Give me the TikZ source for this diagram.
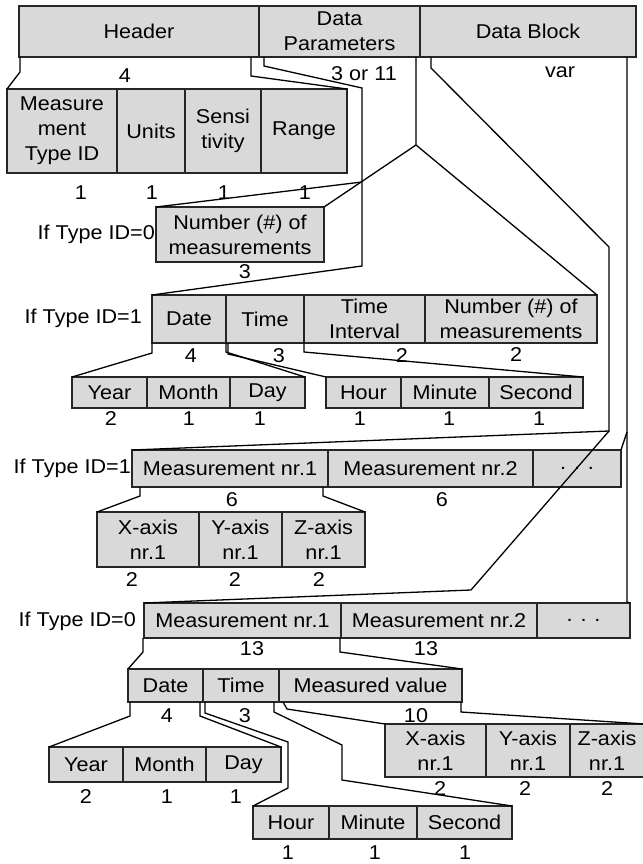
\documentclass[tikz,border=0pt]{standalone}
\usepackage{fontspec}
\setmainfont{Liberation Sans}[FakeStretch=1.08]
\newcommand\fs{\fontsize{20}{25}\selectfont}
\tikzset{
  cell/.style={draw=black!85, line width=1.8pt, fill=black!15, inner sep=0pt, outer sep=0pt, align=center, font=\fs},
  conn/.style={line width=1.3pt, line join=miter},
  lbl/.style={inner sep=0pt, font=\fs},
}
\begin{document}
\begin{tikzpicture}[x=1pt,y=-1pt]
\useasboundingbox (0,0) rectangle (642,864);
% top row
\node[cell, minimum width=240, minimum height=51] (hdr) at (139,31.5) {Header};
\node[cell, minimum width=161, minimum height=51] (dp) at (339.5,31.5) {Data\\Parameters};
\node[cell, minimum width=216, minimum height=51] (db) at (528,31.5) {Data Block};
\node[lbl] (l4) at (125,76) {4};
\node[lbl] (l311) at (364,74) {3 or 11};
\node[lbl] (lvar) at (560,72) {var};
% header sub row
\node[cell, minimum width=110, minimum height=84] (mtid) at (62,131) {Measure\\ment\\Type ID};
\node[cell, minimum width=68, minimum height=84] (units) at (151,131) {Units};
\node[cell, minimum width=76, minimum height=84] (sens) at (223,131) {Sensi\\tivity};
\node[cell, minimum width=86, minimum height=84] (range) at (304,131) {Range};
\node[lbl] (h1) at (81,193) {1};
\node[lbl] (h2) at (152,193) {1};
\node[lbl] (h3) at (224,193) {1};
\node[lbl] (h4) at (305,193) {1};
% type 0 number
\node[cell, minimum width=168, minimum height=55] (num0) at (240,234.5) {Number (\#) of\\measurements};
\node[lbl, anchor=east] (if0a) at (155,234) {If Type ID=0};
\node[lbl] (n0l) at (245,272) {3};
% type 1 params
\node[cell, minimum width=74, minimum height=48] (date1) at (189,319) {Date};
\node[cell, minimum width=78, minimum height=48] (time1) at (265,319) {Time};
\node[cell, minimum width=121, minimum height=48] (ti) at (364.5,319) {Time\\Interval};
\node[cell, minimum width=172, minimum height=48] (nm1) at (511,319) {Number (\#) of\\measurements};
\node[lbl, anchor=east] (if1a) at (142,318) {If Type ID=1};
\node[lbl] (p1) at (191,356) {4};
\node[lbl] (p2) at (279,356) {3};
\node[lbl] (p3) at (402,356) {2};
\node[lbl] (p4) at (516,355) {2};
% ymd / hms 1
\node[cell, minimum width=75, minimum height=31] (year1) at (109.5,392.5) {Year};
\node[cell, minimum width=83, minimum height=31] (month1) at (188.5,392.5) {Month};
\node[cell, minimum width=75, minimum height=31] (day1) at (267.5,392.5) {Day};
\node[cell, minimum width=75, minimum height=31] (hour1) at (363.5,392.5) {Hour};
\node[cell, minimum width=88, minimum height=31] (min1) at (445,392.5) {Minute};
\node[cell, minimum width=94, minimum height=31] (sec1) at (536,392.5) {Second};
\node[lbl] (q1) at (111,419) {2};
\node[lbl] (q2) at (189,419) {1};
\node[lbl] (q3) at (260,419) {1};
\node[lbl] (q4) at (360,419) {1};
\node[lbl] (q5) at (449,419) {1};
\node[lbl] (q6) at (539,419) {1};
% type 1 measurements
\node[cell, minimum width=196, minimum height=37] (m1a) at (230,468.5) {Measurement nr.1};
\node[cell, minimum width=205, minimum height=37] (m2a) at (430.5,468.5) {Measurement nr.2};
\node[cell, minimum width=88, minimum height=37] (dotsa) at (577,468.5) {. . .};
\node[lbl, anchor=east] (if1b) at (131,468) {If Type ID=1};
\node[lbl] (r1) at (232,500) {6};
\node[lbl] (r2) at (442,500) {6};
\node[cell, minimum width=102, minimum height=55] (x1) at (148,539.5) {X-axis\\nr.1};
\node[cell, minimum width=83, minimum height=55] (y1) at (240.5,539.5) {Y-axis\\nr.1};
\node[cell, minimum width=83, minimum height=55] (z1) at (323.5,539.5) {Z-axis\\nr.1};
\node[lbl] (s1) at (132,580) {2};
\node[lbl] (s2) at (235,580) {2};
\node[lbl] (s3) at (319,580) {2};
% type 0 measurements
\node[cell, minimum width=197, minimum height=35] (m1b) at (242.5,620.5) {Measurement nr.1};
\node[cell, minimum width=196, minimum height=35] (m2b) at (439,620.5) {Measurement nr.2};
\node[cell, minimum width=93, minimum height=35] (dotsb) at (583.5,620.5) {. . .};
\node[lbl, anchor=east] (if0b) at (136,621) {If Type ID=0};
\node[lbl] (t1) at (252,649) {13};
\node[lbl] (t2) at (426,649) {13};
\node[cell, minimum width=75, minimum height=33] (date2) at (165.5,685.5) {Date};
\node[cell, minimum width=76, minimum height=33] (time2) at (241,685.5) {Time};
\node[cell, minimum width=183, minimum height=33] (mv) at (370.5,685.5) {Measured value};
\node[lbl] (u1) at (167,716) {4};
\node[lbl] (u2) at (245,716) {3};
\node[lbl] (u3) at (416,716) {10};
\node[cell, minimum width=74, minimum height=35] (year2) at (86,764.5) {Year};
\node[cell, minimum width=83, minimum height=35] (month2) at (164.5,764.5) {Month};
\node[cell, minimum width=75, minimum height=35] (day2) at (243.5,764.5) {Day};
\node[lbl] (v1) at (86,797) {2};
\node[lbl] (v2) at (167,797) {1};
\node[lbl] (v3) at (236,797) {1};
\node[cell, minimum width=101, minimum height=53] (x2) at (435.5,750.5) {X-axis\\nr.1};
\node[cell, minimum width=84, minimum height=53] (y2) at (528,750.5) {Y-axis\\nr.1};
\node[cell, minimum width=74, minimum height=53] (z2) at (607,750.5) {Z-axis\\nr.1};
\node[lbl] (w1) at (440,789) {2};
\node[lbl] (w2) at (525,789) {2};
\node[lbl] (w3) at (607,789) {2};
\node[cell, minimum width=76, minimum height=33] (hour2) at (291,822.5) {Hour};
\node[cell, minimum width=88, minimum height=33] (min2) at (373,822.5) {Minute};
\node[cell, minimum width=95, minimum height=33] (sec2) at (464.5,822.5) {Second};
\node[lbl] (z1l) at (288,853) {1};
\node[lbl] (z2l) at (375,853) {1};
\node[lbl] (z3l) at (465,853) {1};
% connectors
\coordinate (dpb) at (362,182);
\coordinate (dpr) at (416,145);
\coordinate (dbl) at (609,431);
\coordinate (dbr) at (627,432);
\draw[conn] ([xshift=1pt]hdr.south west) -- ++(0,15) -- (mtid.north west);
\draw[conn] ([xshift=-8pt]hdr.south east) -- ++(0,19) -- (range.north east);
\draw[conn] ([xshift=5pt]dp.south west) -- ++(0,9) -- (362,88) -- (dpb) -- (362,266) -- (date1.north west);
\draw[conn] (dpb) -- (num0.north west);
\draw[conn] ([xshift=-4pt]dp.south east) -- (dpr) -- (num0.north east);
\draw[conn] (dpr) -- (nm1.north east);
\draw[conn] ([xshift=11pt]db.south west) -- ++(0,11) -- (609,247) -- (dbl) -- (m1a.north west);
\draw[conn] (dbl) -- (471,590) -- (m1b.north west);
\draw[conn] ([xshift=-9pt]db.south east) -- (dbr) -- (627,602) -- (dotsb.north east);
\draw[conn] (dbr) -- (dotsa.north east);
\draw[conn] ([xshift=8pt]m1a.south west) -- ++(0,9) -- (x1.north west);
\draw[conn] ([xshift=-5pt]m1a.south east) -- ++(0,9) -- (z1.north east);
\draw[conn] (date1.south west) -- ++(0,10) -- (year1.north west);
\draw[conn] (date1.south east) -- ++(0,9) -- (day1.north east);
\draw[conn] ([xshift=2pt]time1.south west) -- ++(0,11) -- (hour1.north west);
\draw[conn] (ti.south west) -- ++(0,9) -- (sec1.north east);
\draw[conn] ([xshift=-1pt]m1b.south west) -- ++(0,14) -- (date2.north west);
\draw[conn] ([xshift=-1pt]m1b.south east) -- ++(0,14) -- (mv.north east);
\draw[conn] ([xshift=2pt]date2.south west) -- ++(0,14) -- (year2.north west);
\draw[conn] ([xshift=-3pt]date2.south east) -- ++(0,14) -- (day2.north east);
\draw[conn] ([xshift=2pt]time2.south west) -- ++(0,11) -- (288,742) -- (288,788) -- (hour2.north west);
\draw[conn] ([xshift=-5pt]time2.south east) -- ++(0,10) -- (342,745) -- (342,780) -- (sec2.north east);
\draw[conn] ([xshift=4pt]mv.south west) -- ++(4,7) -- (x2.north west);
\draw[conn] ([xshift=-1pt]mv.south east) -- ++(0,10) -- (z2.north east);
\end{tikzpicture}
\end{document}
